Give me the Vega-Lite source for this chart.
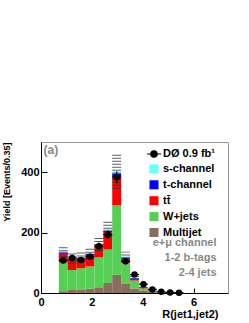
{
  "$schema": "https://vega.github.io/schema/vega-lite/v6.json",
  "width": 187,
  "height": 151,
  "autosize": "none",
  "padding": {"left": 41, "top": 142, "right": 21, "bottom": 30},
  "background": "white",
  "config": {
    "view": {"stroke": "#999", "strokeWidth": 1},
    "font": "Liberation Sans",
    "axis": {"grid": false, "labelFlush": false, "labelOverlap": false, "domainColor": "black", "tickColor": "black", "labelColor": "black", "titleColor": "black", "labelFont": "Liberation Sans", "titleFont": "Liberation Sans", "labelFontSize": 11, "labelFontWeight": "bold", "titleFontSize": 11, "titleFontWeight": "bold"}
  },
  "datasets": {
    "bkg": [
      {"lo": 0.70, "hi": 1.05, "Multijet": 6, "W+jets": 95, "tt̄": 30, "t-channel": 4, "s-channel": 3},
      {"lo": 1.05, "hi": 1.40, "Multijet": 10, "W+jets": 66, "tt̄": 34, "t-channel": 4, "s-channel": 2},
      {"lo": 1.40, "hi": 1.75, "Multijet": 12, "W+jets": 70, "tt̄": 31, "t-channel": 4, "s-channel": 2},
      {"lo": 1.75, "hi": 2.10, "Multijet": 14, "W+jets": 74, "tt̄": 38, "t-channel": 4, "s-channel": 3},
      {"lo": 2.10, "hi": 2.45, "Multijet": 19, "W+jets": 99, "tt̄": 38, "t-channel": 4, "s-channel": 3},
      {"lo": 2.45, "hi": 2.80, "Multijet": 33, "W+jets": 111, "tt̄": 58, "t-channel": 5, "s-channel": 4},
      {"lo": 2.80, "hi": 3.15, "Multijet": 60, "W+jets": 230, "tt̄": 92, "t-channel": 13, "s-channel": 7},
      {"lo": 3.15, "hi": 3.50, "Multijet": 32, "W+jets": 67, "tt̄": 15, "t-channel": 4, "s-channel": 3},
      {"lo": 3.50, "hi": 3.85, "Multijet": 15, "W+jets": 26, "tt̄": 5, "t-channel": 3, "s-channel": 2},
      {"lo": 3.85, "hi": 4.20, "Multijet": 7, "W+jets": 8, "tt̄": 3, "t-channel": 1, "s-channel": 1},
      {"lo": 4.20, "hi": 4.55, "Multijet": 3, "W+jets": 3, "tt̄": 1, "t-channel": 0.5, "s-channel": 0.5},
      {"lo": 4.55, "hi": 4.90, "Multijet": 1, "W+jets": 1.5, "tt̄": 0.5, "t-channel": 0.2, "s-channel": 0.2},
      {"lo": 4.90, "hi": 5.25, "Multijet": 0.5, "W+jets": 0.7, "tt̄": 0.2, "t-channel": 0.1, "s-channel": 0.1},
      {"lo": 5.25, "hi": 5.60, "Multijet": 0.2, "W+jets": 0.3, "tt̄": 0.1, "t-channel": 0.05, "s-channel": 0.05}
    ],
    "unc": [
      {"x": 0.875, "ylo": 118, "yhi": 156},
      {"x": 1.225, "ylo": 98, "yhi": 132},
      {"x": 1.575, "ylo": 101, "yhi": 136},
      {"x": 1.925, "ylo": 113, "yhi": 152},
      {"x": 2.275, "ylo": 139, "yhi": 186},
      {"x": 2.625, "ylo": 183, "yhi": 240},
      {"x": 2.975, "ylo": 345, "yhi": 462},
      {"x": 3.325, "ylo": 104, "yhi": 137},
      {"x": 3.675, "ylo": 44, "yhi": 58},
      {"x": 4.025, "ylo": 17, "yhi": 23},
      {"x": 4.375, "ylo": 7, "yhi": 9}
    ],
    "obs": [
      {"x": 0.875, "lo": 0.70, "hi": 1.05, "n": 108, "err": 10.4},
      {"x": 1.225, "lo": 1.05, "hi": 1.40, "n": 116, "err": 10.8},
      {"x": 1.575, "lo": 1.40, "hi": 1.75, "n": 109, "err": 10.4},
      {"x": 1.925, "lo": 1.75, "hi": 2.10, "n": 120, "err": 11.0},
      {"x": 2.275, "lo": 2.10, "hi": 2.45, "n": 155, "err": 12.4},
      {"x": 2.625, "lo": 2.45, "hi": 2.80, "n": 193, "err": 13.9},
      {"x": 2.975, "lo": 2.80, "hi": 3.15, "n": 383, "err": 19.6},
      {"x": 3.325, "lo": 3.15, "hi": 3.50, "n": 105, "err": 10.2},
      {"x": 3.675, "lo": 3.50, "hi": 3.85, "n": 61, "err": 7.8},
      {"x": 4.025, "lo": 3.85, "hi": 4.20, "n": 29, "err": 5.4},
      {"x": 4.375, "lo": 4.20, "hi": 4.55, "n": 12, "err": 3.5},
      {"x": 4.725, "lo": 4.55, "hi": 4.90, "n": 4, "err": 2.0},
      {"x": 5.075, "lo": 4.90, "hi": 5.25, "n": 2, "err": 1.4},
      {"x": 5.425, "lo": 5.25, "hi": 5.60, "n": 1, "err": 1.0}
    ]
  },
  "layer": [
    {
      "data": {"name": "bkg"},
      "transform": [
        {"fold": ["Multijet", "W+jets", "tt̄", "t-channel", "s-channel"], "as": ["key", "value"]},
        {"calculate": "indexof(['Multijet','W+jets','tt̄','t-channel','s-channel'], datum.key)", "as": "ordk"},
        {"stack": "value", "groupby": ["lo"], "sort": [{"field": "ordk", "order": "ascending"}], "as": ["y0", "y1"]}
      ],
      "mark": {"type": "rect"},
      "encoding": {
        "x": {
          "field": "lo", "type": "quantitative", "title": "R(jet1,jet2)",
          "scale": {"domain": [0, 7.35], "nice": false, "zero": false},
          "axis": {
            "title": "R(jet1,jet2)",
            "values": [0, 1, 2, 3, 4, 5, 6, 7],
            "labelExpr": "datum.value % 2 === 0 ? datum.label : ''",
            "tickSize": {"condition": {"test": "datum.value % 2 === 0", "value": -5}, "value": -3},
            "labelPadding": 8,
            "titleAnchor": "end", "titleAlign": "right", "titleBaseline": "middle",
            "titleX": 177, "titleY": 21
          }
        },
        "x2": {"field": "hi"},
        "y": {
          "field": "y0", "type": "quantitative", "title": "Yield [Events/0.35]",
          "scale": {"domain": [0, 500], "nice": false},
          "axis": {
            "title": "Yield [Events/0.35]",
            "values": [0, 50, 100, 150, 200, 250, 300, 350, 400, 450],
            "labelExpr": "datum.value % 200 === 0 ? datum.label : ''",
            "tickSize": {"condition": {"test": "datum.value % 200 === 0", "value": -6}, "value": -3},
            "labelPadding": 8,
            "titleFontSize": 9,
            "titleAnchor": "end", "titleAlign": "right", "titleBaseline": "middle", "titleAngle": -90,
            "titleX": -35, "titleY": 0
          }
        },
        "y2": {"field": "y1"},
        "color": {
          "field": "key", "type": "nominal",
          "scale": {
            "domain": ["DØ 0.9 fb¹", "s-channel", "t-channel", "tt̄", "W+jets", "Multijet"],
            "range": ["black", "#66ffff", "#0000ff", "#ff0000", "#55d055", "#8a6d5e"]
          },
          "legend": {
            "title": null,
            "orient": "none",
            "legendX": 105,
            "legendY": 4,
            "padding": 0,
            "symbolSize": 200,
            "rowPadding": 0.9,
            "labelOffset": 1,
            "labelFont": "Liberation Sans",
            "labelFontSize": 11,
            "labelFontWeight": "bold",
            "labelColor": "black",
            "labelLimit": 200,
            "encode": {
              "symbols": {
                "update": {
                  "shape": {"signal": "datum.value === 'DØ 0.9 fb¹' ? 'M-1,0H1M0.45,0A0.45,0.45,0,1,1,-0.45,0A0.45,0.45,0,1,1,0.45,0Z' : 'M-0.64,-0.64H0.64V0.64H-0.64Z'"},
                  "stroke": {"signal": "datum.value === 'DØ 0.9 fb¹' ? 'black' : 'transparent'"},
                  "strokeWidth": {"value": 1.2},
                  "opacity": {"value": 1}
                }
              }
            }
          }
        }
      }
    },
    {
      "data": {"name": "unc"},
      "mark": {"type": "rule", "color": "#333", "strokeWidth": 8.9, "strokeDash": [1, 2], "strokeCap": "butt", "opacity": 0.8},
      "encoding": {
        "x": {"field": "x", "type": "quantitative", "title": "R(jet1,jet2)"},
        "y": {"field": "ylo", "type": "quantitative", "title": "Yield [Events/0.35]"},
        "y2": {"field": "yhi"}
      }
    },
    {
      "data": {"name": "obs"},
      "mark": {"type": "rule", "color": "black", "strokeWidth": 1.2},
      "encoding": {
        "x": {"field": "lo", "type": "quantitative", "title": "R(jet1,jet2)"},
        "x2": {"field": "hi"},
        "y": {"field": "n", "type": "quantitative", "title": "Yield [Events/0.35]"}
      }
    },
    {
      "data": {"name": "obs"},
      "mark": {"type": "errorbar", "color": "black", "thickness": 1.2},
      "encoding": {
        "x": {"field": "x", "type": "quantitative", "title": "R(jet1,jet2)"},
        "y": {"field": "n", "type": "quantitative", "title": "Yield [Events/0.35]"},
        "yError": {"field": "err"}
      }
    },
    {
      "data": {"name": "obs"},
      "mark": {"type": "point", "filled": true, "color": "black", "size": 42, "opacity": 1},
      "encoding": {
        "x": {"field": "x", "type": "quantitative", "title": "R(jet1,jet2)"},
        "y": {"field": "n", "type": "quantitative", "title": "Yield [Events/0.35]"}
      }
    },
    {
      "data": {"values": [{"t": "(a)"}]},
      "mark": {"type": "text", "align": "left", "baseline": "middle", "font": "Liberation Sans", "fontSize": 12, "fontWeight": "bold", "color": "#888"},
      "encoding": {
        "x": {"datum": 0.1, "type": "quantitative"},
        "y": {"datum": 475, "type": "quantitative"},
        "text": {"field": "t"}
      }
    },
    {
      "data": {"values": [{}]},
      "mark": {"type": "text", "text": ["e+μ channel", "1-2 b-tags", "2-4 jets"], "align": "right", "baseline": "middle", "lineHeight": 15, "font": "Liberation Sans", "fontSize": 11, "fontWeight": "bold", "color": "#888"},
      "encoding": {
        "x": {"datum": 6.9, "type": "quantitative"},
        "y": {"datum": 165, "type": "quantitative"}
      }
    }
  ]
}
